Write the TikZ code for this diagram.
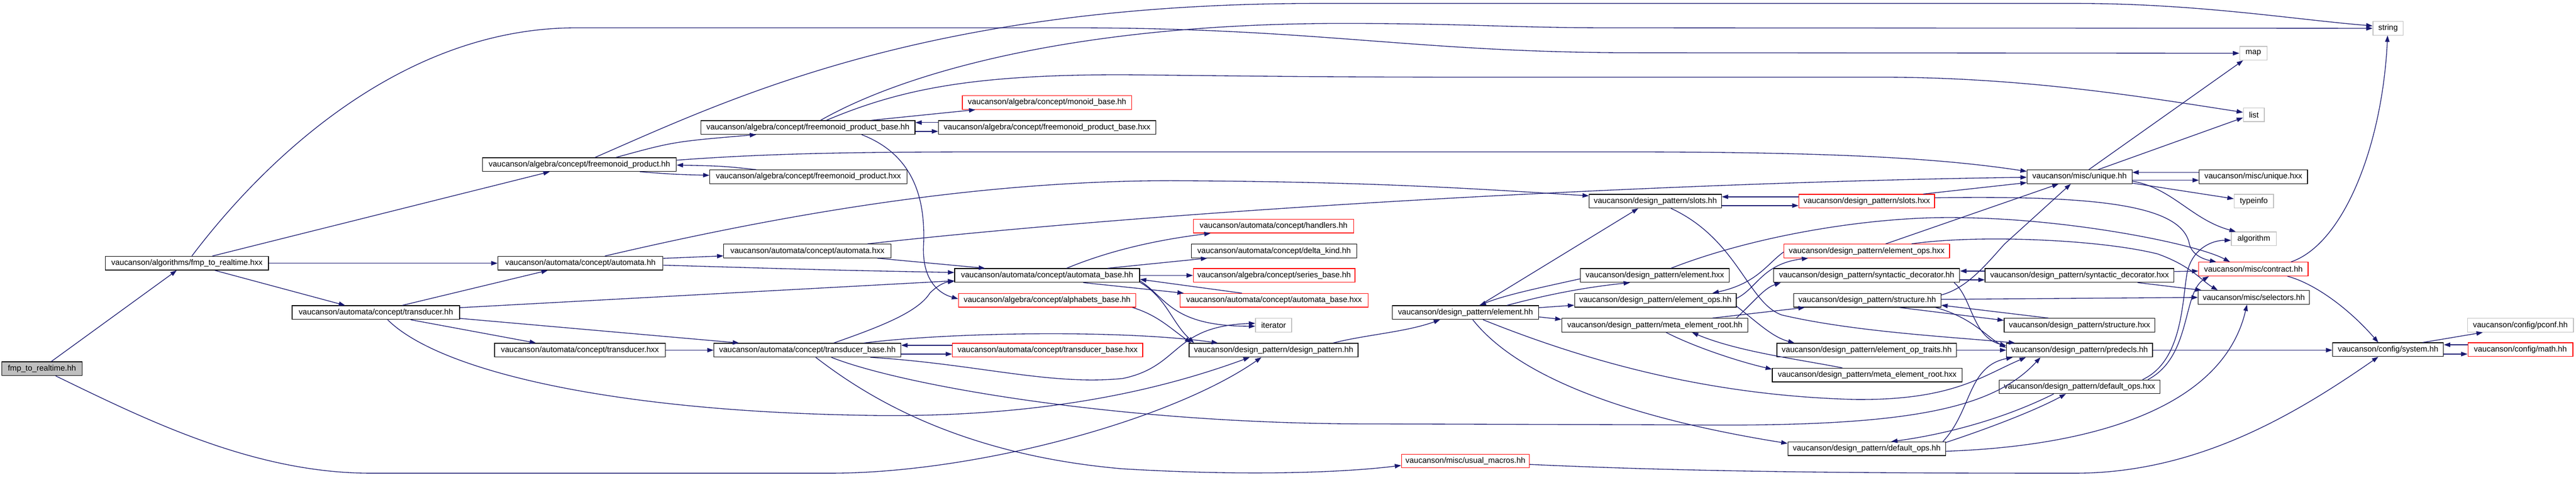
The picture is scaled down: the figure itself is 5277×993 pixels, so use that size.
\documentclass[tikz,border=0pt]{standalone}
\usepackage{fontspec}
\setmainfont{Liberation Sans}
\usetikzlibrary{arrows.meta}
\definecolor{edgec}{HTML}{191970}
\definecolor{grayb}{HTML}{BFBFBF}
\tikzset{
  nb/.style={draw=black, line width=1.4pt, fill=white, minimum height=28pt, inner sep=0pt, font=\fontsize{16.3}{19}\selectfont},
  nr/.style={nb, draw=red},
  ng/.style={nb, draw=grayb},
  nfill/.style={nb, fill=grayb},
  e/.style={draw=edgec, line width=1.4pt, -{Triangle[length=13pt,width=9pt]}},
}
\begin{document}
\begin{tikzpicture}[x=1pt,y=-1pt]
\fill[white] (0,0) rectangle (5277,993);
\useasboundingbox (0,0) rectangle (5277,993);

% nodes
\node[nfill,minimum width=164] (fmp_hh) at (86,755) {fmp\_to\_realtime.hh};
\node[nb,minimum width=334] (fmp_hxx) at (383,539) {vaucanson/algorithms/fmp\_to\_realtime.hxx};
\node[nb,minimum width=343] (trans_hh) at (770,640) {vaucanson/automata/concept/transducer.hh};
\node[nb,minimum width=397] (fp_hh) at (1187,337) {vaucanson/algebra/concept/freemonoid\_product.hh};
\node[nb,minimum width=338] (aut_hh) at (1189,539) {vaucanson/automata/concept/automata.hh};
\node[nb,minimum width=350] (trans_hxx) at (1188,717) {vaucanson/automata/concept/transducer.hxx};
\node[nb,minimum width=439] (fpb_hh) at (1655,261) {vaucanson/algebra/concept/freemonoid\_product\_base.hh};
\node[nb,minimum width=404] (fp_hxx) at (1656,362) {vaucanson/algebra/concept/freemonoid\_product.hxx};
\node[nb,minimum width=343] (aut_hxx) at (1654,514) {vaucanson/automata/concept/automata.hxx};
\node[nb,minimum width=383] (tb_hh) at (1654,717) {vaucanson/automata/concept/transducer\_base.hh};
\node[nb,minimum width=445] (fpb_hxx) at (2145,261) {vaucanson/algebra/concept/freemonoid\_product\_base.hxx};
\node[nr,minimum width=347] (monoid) at (2145,210) {vaucanson/algebra/concept/monoid\_base.hh};
\node[nb,minimum width=379] (ab_hh) at (2145,564) {vaucanson/automata/concept/automata\_base.hh};
\node[nr,minimum width=363] (alpha) at (2145,615) {vaucanson/algebra/concept/alphabets\_base.hh};
\node[nr,minimum width=390] (tb_hxx) at (2146,717) {vaucanson/automata/concept/transducer\_base.hxx};
\node[nr,minimum width=328] (handlers) at (2609,463) {vaucanson/automata/concept/handlers.hh};
\node[nb,minimum width=339] (delta) at (2610,514) {vaucanson/automata/concept/delta\_kind.hh};
\node[nr,minimum width=331] (series) at (2610,564) {vaucanson/algebra/concept/series\_base.hh};
\node[nr,minimum width=385] (ab_hxx) at (2610,615) {vaucanson/automata/concept/automata\_base.hxx};
\node[ng,minimum width=74] (iterator) at (2609,666) {iterator};
\node[nb,minimum width=346] (dp_hh) at (2609,717) {vaucanson/design\_pattern/design\_pattern.hh};
\node[nb,minimum width=300] (el_hh) at (3002,640) {vaucanson/design\_pattern/element.hh};
\node[nr,minimum width=262] (macros) at (3002,944) {vaucanson/misc/usual\_macros.hh};
\node[nb,minimum width=271] (slots_hh) at (3391,412) {vaucanson/design\_pattern/slots.hh};
\node[nb,minimum width=305] (el_hxx) at (3390,564) {vaucanson/design\_pattern/element.hxx};
\node[nb,minimum width=331] (eo_hh) at (3391,615) {vaucanson/design\_pattern/element\_ops.hh};
\node[nb,minimum width=381] (mer_hh) at (3390,666) {vaucanson/design\_pattern/meta\_element\_root.hh};
\node[nr,minimum width=278] (slots_hxx) at (3824,412) {vaucanson/design\_pattern/slots.hxx};
\node[nr,minimum width=339] (eo_hxx) at (3824,514) {vaucanson/design\_pattern/element\_ops.hxx};
\node[nb,minimum width=381] (sd_hh) at (3824,564) {vaucanson/design\_pattern/syntactic\_decorator.hh};
\node[nb,minimum width=302] (st_hh) at (3825,615) {vaucanson/design\_pattern/structure.hh};
\node[nb,minimum width=368] (eot) at (3824,717) {vaucanson/design\_pattern/element\_op\_traits.hh};
\node[nb,minimum width=389] (mer_hxx) at (3825,768) {vaucanson/design\_pattern/meta\_element\_root.hxx};
\node[nb,minimum width=323] (do_hh) at (3824,919) {vaucanson/design\_pattern/default\_ops.hh};
\node[nb,minimum width=215] (unique_hh) at (4260,362) {vaucanson/misc/unique.hh};
\node[nb,minimum width=387] (sd_hxx) at (4260,564) {vaucanson/design\_pattern/syntactic\_decorator.hxx};
\node[nb,minimum width=309] (st_hxx) at (4260,666) {vaucanson/design\_pattern/structure.hxx};
\node[nb,minimum width=299] (predecls) at (4260,717) {vaucanson/design\_pattern/predecls.hh};
\node[nb,minimum width=329] (do_hxx) at (4260,792) {vaucanson/design\_pattern/default\_ops.hxx};
\node[ng,minimum width=56] (map) at (4616,109) {map};
\node[ng,minimum width=43] (list) at (4617,235) {list};
\node[nb,minimum width=222] (unique_hxx) at (4616,362) {vaucanson/misc/unique.hxx};
\node[ng,minimum width=81] (typeinfo) at (4617,412) {typeinfo};
\node[ng,minimum width=92] (algorithm) at (4617,489) {algorithm};
\node[nr,minimum width=224] (contract) at (4616,551) {vaucanson/misc/contract.hh};
\node[nb,minimum width=228] (selectors) at (4617,609) {vaucanson/misc/selectors.hh};
\node[ng,minimum width=62] (string) at (4892,58) {string};
\node[nb,minimum width=227] (system) at (4892,716) {vaucanson/config/system.hh};
\node[ng,minimum width=217] (pconf) at (5163,666) {vaucanson/config/pconf.hh};
\node[nr,minimum width=215] (math) at (5163,716) {vaucanson/config/math.hh};

% edges
\draw[e] (fmp_hh.north -| 105,0) -- (fmp_hxx.south -| 362,0);
\draw[e] (fmp_hh.south -| 114,0) .. controls (300,860) and (520,969) .. (760,969) -- (1700,969) .. controls (2000,969) and (2400,860) .. (dp_hh.south -| 2584,0);
\draw[e] (fmp_hxx.north -| 435,0) -- (fp_hh.south -| 1126,0);
\draw[e] (fmp_hxx.east) -- (aut_hh.west);
\draw[e] (fmp_hxx.south -| 440,0) -- (trans_hh.north -| 707,0);
\draw[e] (fmp_hxx.north -| 393,0) .. controls (540,330) and (820,57) .. (1180,57) -- (2200,57) .. controls (2700,57) and (2900,108) .. (3350,108) -- (map.west);

\draw[e] (trans_hh.north -| 824,0) -- (aut_hh.south -| 1122,0);
\draw[e] (trans_hh.east |- 0,630) -- (ab_hh.west |- 0,575);
\draw[e] (trans_hh.south -| 841,0) -- (trans_hxx.north -| 1098,0);
\draw[e] (trans_hh.east |- 0,652) -- (tb_hh.north -| 1514,0);
\draw[e] (trans_hh.south -| 794,0) .. controls (900,760) and (1250,840) .. (1750,850) .. controls (2150,860) and (2400,790) .. (dp_hh.south -| 2560,0);

\draw[e] (fp_hh.north -| 1262,0) .. controls (1380,290) .. (fpb_hh.south -| 1549,0);
\draw[e] (fp_hh.south -| 1311,0) .. controls (1380,357) .. (fp_hxx.west |- 0,359);
\draw[e] (fp_hxx.north -| 1549,0) .. controls (1480,340) .. (fp_hh.east |- 0,338);
\draw[e] (fp_hh.north -| 1219,0) .. controls (1500,200) and (1900,7) .. (2700,7) -- (4250,7) .. controls (4500,7) and (4700,40) .. (string.west |- 0,53);
\draw[e] (fp_hh.east |- 0,328) .. controls (1600,312) and (1800,311) .. (2100,311) -- (3300,311) .. controls (3700,311) and (3950,320) .. (unique_hh.west |- 0,351);

\draw[e] (aut_hh.east |- 0,529) -- (aut_hxx.west |- 0,524);
\draw[e] (aut_hh.east |- 0,543) .. controls (1700,553) .. (ab_hh.west |- 0,558);
\draw[e] (aut_hh.north -| 1239,0) .. controls (1600,440) and (2000,370) .. (2400,370) .. controls (2800,372) and (3000,385) .. (slots_hh.west |- 0,401);
\draw[e] (trans_hxx.east) -- (tb_hh.west);

\draw[e] (fpb_hh.east |- 0,269) -- (fpb_hxx.west |- 0,269);
\draw[e] (fpb_hxx.west |- 0,251) -- (fpb_hh.east |- 0,251);
\draw[e] (fpb_hh.north -| 1785,0) -- (monoid.south -| 1998,0);
\draw[e] (fpb_hh.north -| 1681,0) .. controls (1850,150) and (2200,48) .. (2750,48) .. controls (3000,48) and (3100,57) .. (3300,57) -- (string.west);
\draw[e] (fpb_hh.north -| 1693,0) .. controls (1850,180) and (2000,153) .. (2300,153) .. controls (2500,155) and (2700,158) .. (3000,158) -- (3850,158) .. controls (4150,158) and (4400,200) .. (list.west |- 0,230);
\draw[e] (fpb_hh.south -| 1765,0) .. controls (1880,320) and (1895,420) .. (1892,500) .. controls (1888,570) and (1920,600) .. (alpha.west |- 0,612);

\draw[e] (aut_hxx.south -| 1797,0) -- (ab_hh.north -| 2018,0);
\draw[e] (aut_hxx.north -| 1777,0) .. controls (2500,420) and (3500,372) .. (unique_hh.west |- 0,363);

\draw[e] (tb_hh.north -| 1708,0) .. controls (1800,670) and (1880,640) .. (1905,600) .. controls (1920,585) and (1935,578) .. (ab_hh.west |- 0,576);
\draw[e] (tb_hh.east |- 0,725) -- (tb_hxx.west |- 0,725);
\draw[e] (tb_hxx.west |- 0,707) -- (tb_hh.east |- 0,707);
\draw[e] (tb_hh.south -| 1671,0) .. controls (1760,800) and (1950,930) .. (2300,960) .. controls (2550,975) and (2750,968) .. (macros.west |- 0,953);
\draw[e] (tb_hh.south -| 1703,0) .. controls (1850,790) and (2300,868) .. (2800,868) -- (3450,870) .. controls (3900,875) and (4080,840) .. (predecls.south -| 4180,0);
\draw[e] (tb_hh.north -| 1770,0) .. controls (1950,680) and (2300,675) .. (dp_hh.north -| 2495,0);
\draw[e] (tb_hh.south -| 1783,0) .. controls (2000,745) and (2150,790) .. (2300,775) .. controls (2420,750) and (2400,668) .. (iterator.west |- 0,662);

\draw[e] (ab_hh.north -| 2185,0) .. controls (2280,510) and (2380,490) .. (handlers.south -| 2480,0);
\draw[e] (ab_hh.north -| 2269,0) -- (delta.south -| 2473,0);
\draw[e] (ab_hh.east) -- (series.west);
\draw[e] (ab_hh.south -| 2219,0) -- (ab_hxx.north -| 2425,0);
\draw[e] (ab_hxx.north -| 2544,0) -- (ab_hh.east |- 0,572);
\draw[e] (ab_hh.east |- 0,575) .. controls (2390,610) and (2400,668) .. (iterator.west |- 0,668);
\draw[e] (ab_hh.east |- 0,578) .. controls (2390,610) and (2400,660) .. (dp_hh.north -| 2446,0);
\draw[e] (alpha.south -| 2320,0) .. controls (2370,645) and (2395,670) .. (dp_hh.north -| 2440,0);

\draw[e] (dp_hh.north -| 2731,0) .. controls (2800,685) and (2880,680) .. (el_hh.south -| 2950,0);

\draw[e] (el_hh.north -| 3031,0) -- (slots_hh.south -| 3356,0);
\draw[e] (slots_hh.south -| 3423,0) .. controls (3560,490) and (3580,620) .. (3650,645) .. controls (3800,680) and (4000,690) .. (predecls.north -| 4128,0);
\draw[e] (slots_hh.east |- 0,421) -- (slots_hxx.west |- 0,421);
\draw[e] (slots_hxx.west |- 0,403) -- (slots_hh.east |- 0,403);
\draw[e] (slots_hxx.north -| 3940,0) -- (unique_hh.west |- 0,374);
\draw[e] (slots_hxx.east |- 0,405) .. controls (4300,400) and (4470,420) .. (4485,500) .. controls (4490,520) and (4510,530) .. (contract.north -| 4540,0);

\draw[e] (el_hh.north -| 3087,0) .. controls (3200,595) and (3280,585) .. (el_hxx.south -| 3339,0);
\draw[e] (el_hxx.west |- 0,571) .. controls (3150,590) and (3080,605) .. (el_hh.north -| 3031,0);
\draw[e] (el_hh.east |- 0,630) -- (eo_hh.west |- 0,625);
\draw[e] (el_hh.east |- 0,649) -- (mer_hh.west |- 0,654);
\draw[e] (el_hh.south -| 3017,0) .. controls (3100,760) and (3300,850) .. (do_hh.west |- 0,908);
\draw[e] (el_hh.south -| 3038,0) .. controls (3250,740) and (3500,810) .. (3800,818) .. controls (4000,820) and (4060,770) .. (predecls.south -| 4150,0);
\draw[e] (el_hxx.north -| 3423,0) .. controls (3600,480) and (3850,440) .. (4030,446) .. controls (4250,450) and (4500,500) .. (contract.north -| 4568,0);

\draw[e] (eo_hh.east |- 0,611) .. controls (3600,590) and (3610,540) .. (eo_hxx.south -| 3704,0);
\draw[e] (eo_hxx.west |- 0,516) .. controls (3620,540) and (3600,580) .. (eo_hh.north -| 3508,0);
\draw[e] (eo_hh.east |- 0,627) .. controls (3600,660) and (3630,690) .. (eot.north -| 3676,0);
\draw[e] (mer_hh.north -| 3557,0) .. controls (3600,610) and (3615,590) .. (sd_hh.south -| 3648,0);
\draw[e] (mer_hh.north -| 3508,0) -- (st_hh.south -| 3697,0);
\draw[e] (mer_hh.south -| 3413,0) .. controls (3470,710) and (3560,740) .. (mer_hxx.west |- 0,756);
\draw[e] (mer_hxx.north -| 3774,0) .. controls (3680,735) and (3560,720) .. (mer_hh.south -| 3466,0);

\draw[e] (eo_hxx.north -| 3863,0) -- (unique_hh.south -| 4217,0);
\draw[e] (eo_hxx.north -| 3916,0) .. controls (4050,480) and (4300,490) .. (4420,520) .. controls (4490,545) and (4510,575) .. (selectors.north -| 4543,0);

\draw[e] (sd_hh.east |- 0,573) -- (sd_hxx.west |- 0,573);
\draw[e] (sd_hxx.west |- 0,555) -- (sd_hh.east |- 0,555);
\draw[e] (sd_hh.south -| 4003,0) .. controls (4040,610) and (4040,690) .. (predecls.west |- 0,708);
\draw[e] (sd_hxx.east |- 0,556) -- (contract.west |- 0,555);
\draw[e] (sd_hxx.south -| 4379,0) -- (selectors.north -| 4510,0);

\draw[e] (st_hh.east |- 0,604) .. controls (4030,590) and (4070,540) .. (4106,500) -- (unique_hh.south -| 4242,0);
\draw[e] (st_hh.east |- 0,613) -- (selectors.west |- 0,609);
\draw[e] (st_hh.south -| 3891,0) -- (st_hxx.west |- 0,656);
\draw[e] (st_hxx.north -| 4196,0) -- (st_hh.east |- 0,625);
\draw[e] (st_hh.south -| 3965,0) .. controls (4040,650) and (4070,690) .. (predecls.west |- 0,712);
\draw[e] (eot.east) -- (predecls.west);

\draw[e] (do_hh.east |- 0,906) .. controls (4080,875) and (4170,840) .. (do_hxx.south -| 4232,0);
\draw[e] (do_hxx.south -| 4207,0) .. controls (4100,860) and (3980,890) .. (do_hh.north -| 3874,0);
\draw[e] (do_hh.north -| 3980,0) .. controls (4040,840) and (4030,750) .. (predecls.south -| 4123,0);
\draw[e] (do_hh.east |- 0,924) .. controls (4250,915) and (4550,850) .. (selectors.south -| 4603,0);
\draw[e] (do_hxx.north -| 4389,0) .. controls (4470,740) and (4470,620) .. (4480,560) .. controls (4490,510) and (4530,492) .. (algorithm.west |- 0,492);
\draw[e] (do_hxx.north -| 4400,0) .. controls (4490,730) and (4470,600) .. (contract.south -| 4525,0);

\draw[e] (predecls.east) -- (system.west |- 0,717);

\draw[e] (unique_hh.north -| 4279,0) -- (map.south -| 4595,0);
\draw[e] (unique_hh.north -| 4298,0) -- (list.west |- 0,241);
\draw[e] (unique_hh.east |- 0,369) -- (unique_hxx.west |- 0,369);
\draw[e] (unique_hxx.west |- 0,353) -- (unique_hh.east |- 0,353);
\draw[e] (unique_hh.east |- 0,375) -- (typeinfo.west |- 0,407);
\draw[e] (unique_hh.east |- 0,371) .. controls (4450,385) and (4490,450) .. (algorithm.north -| 4580,0);

\draw[e] (contract.north -| 4693,0) .. controls (4800,500) and (4880,300) .. (string.south -| 4891,0);
\draw[e] (contract.south -| 4686,0) .. controls (4740,580) and (4810,630) .. (system.north -| 4872,0);
\draw[e] (system.north -| 4963,0) -- (pconf.south -| 5086,0);
\draw[e] (system.east |- 0,725) -- (math.west |- 0,725);
\draw[e] (math.west |- 0,706) -- (system.east |- 0,706);
\draw[e] (macros.east |- 0,951) .. controls (3500,968) and (3900,969) .. (4250,969) .. controls (4500,969) and (4700,850) .. (system.south -| 4872,0);
\end{tikzpicture}
\end{document}
